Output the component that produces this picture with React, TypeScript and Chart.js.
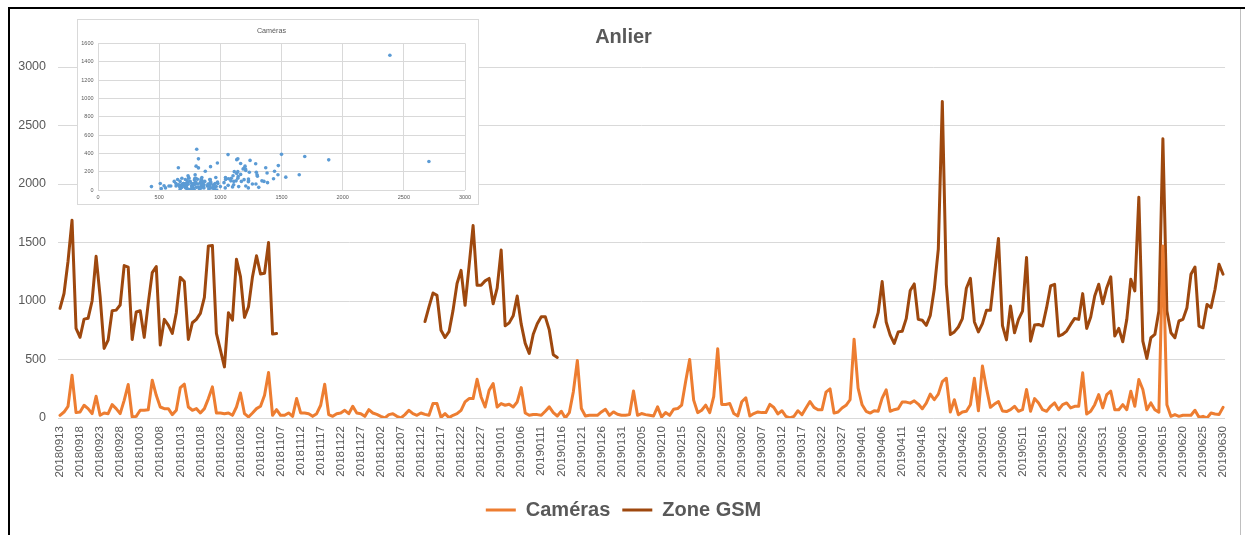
import React, { useEffect, useRef } from 'react';
import { Chart, registerables } from 'chart.js';

Chart.register(...registerables);

// ---------- DATA ----------
const START_YEAR = 2018;
const START_MONTH = 9; // September
const START_DAY = 13;
const DAY_COUNT = 291; // 20180913 .. 20190630
const TICK_EVERY = 5;

const cameras: number[] = [
  23, 51, 100, 366, 46, 51, 109, 80, 37, 186,
  23, 43, 37, 114, 80, 37, 151, 286, 9, 14,
  66, 66, 71, 323, 194, 94, 80, 80, 29, 66,
  260, 289, 94, 66, 80, 43, 80, 166, 266, 43,
  43, 37, 43, 23, 94, 214, 37, 9, 43, 80,
  100, 194, 389, 23, 71, 23, 23, 43, 14, 166,
  43, 43, 37, 14, 37, 109, 289, 29, 14, 37,
  43, 66, 37, 100, 43, 37, 14, 71, 43, 31,
  14, 0, 29, 37, 14, 0, 29, 66, 37, 23,
  43, 31, 23, 123, 123, 5, 37, 3, 23, 37,
  66, 137, 166, 166, 331, 180, 94, 237, 294, 94,
  123, 109, 117, 94, 137, 260, 43, 23, 30, 29,
  23, 58, 95, 46, 17, 58, 0, 46, 225, 491,
  81, 17, 23, 23, 23, 52, 75, 23, 52, 32,
  23, 23, 29, 231, 23, 38, 29, 23, 17, 95,
  9, 46, 23, 75, 81, 110, 312, 500, 153, 46,
  66, 110, 46, 182, 592, 116, 116, 124, 38, 17,
  139, 173, 17, 38, 52, 46, 46, 116, 90, 35,
  62, 14, 0, 14, 62, 28, 85, 141, 91, 71,
  71, 221, 249, 42, 51, 85, 108, 156, 674, 255,
  113, 57, 42, 62, 57, 170, 241, 57, 71, 79,
  136, 136, 127, 147, 119, 79, 127, 204, 156, 204,
  311, 340, 51, 156, 28, 51, 57, 113, 340, 62,
  444, 255, 91, 119, 140, 60, 55, 71, 100, 57,
  71, 243, 57, 166, 129, 71, 57, 100, 129, 71,
  114, 129, 86, 100, 100, 386, 34, 57, 114, 200,
  86, 200, 229, 71, 71, 114, 71, 229, 100, 329,
  243, 71, 129, 71, 49, 1470, 114, 14, 29, 14,
  23, 23, 23, 66, 6, 14, 0, 43, 34, 29,
  91,
];

// Zone GSM exists in three separate runs of days (gaps in between)
const gsmRun1Start = 0; // 20180913
const gsmRun1: number[] = [
  937, 1064, 1340, 1690, 766, 690, 845, 852, 1000, 1382,
  1040, 595, 666, 917, 922, 966, 1303, 1289, 671, 906,
  917, 689, 980, 1243, 1294, 623, 843, 794, 723, 900,
  1202, 1166, 671, 814, 843, 894, 1030, 1471, 1474, 723,
  580, 437, 900, 837, 1357, 1208, 860, 951, 1208, 1386,
  1231, 1237, 1500, 717, 723,
];
const gsmRun2Start = 91; // 20181213
const gsmRun2: number[] = [
  824, 950, 1068, 1048, 750, 688, 738, 920, 1150, 1262,
  963, 1300, 1645, 1134, 1134, 1172, 1193, 976, 1110, 1435,
  788, 813, 873, 1042, 802, 638, 552, 716, 805, 866,
  866, 753, 540, 517,
];
const gsmRun3Start = 203; // 20190404
const gsmRun3: number[] = [
  778, 900, 1166, 821, 708, 637, 736,
  741, 849, 1090, 1146, 843, 835, 792, 877, 1104, 1443,
  2705, 1143, 713, 736, 778, 849, 1109, 1194, 821, 736,
  807, 920, 920, 1230, 1535, 790, 668, 957, 729, 843,
  914, 1371, 657, 794, 800, 786, 943, 1129, 1143, 700,
  714, 743, 800, 851, 843, 1063, 766, 863, 1043, 1143,
  977, 1114, 1206, 700, 766, 651, 843, 1186, 1086, 1886,
  657, 509, 686, 714, 914, 2386, 914, 729, 686, 829,
  843, 943, 1229, 1291, 786, 771, 971, 943, 1100, 1314,
  1229,
];

const yTicksMain = { min: 0, max: 3000, step: 500 };
const insetX = { min: 0, max: 3000, step: 500 };
const insetY = { min: 0, max: 1600, step: 200 };

// ---------- derived tables ----------
const pad2 = (n: number) => (n < 10 ? '0' + n : '' + n);
const categories: string[] = [];
for (let i = 0; i < DAY_COUNT; i++) {
  const d = new Date(Date.UTC(START_YEAR, START_MONTH - 1, START_DAY + i));
  categories.push(`${d.getUTCFullYear()}${pad2(d.getUTCMonth() + 1)}${pad2(d.getUTCDate())}`);
}

const zoneGsm: (number | null)[] = new Array(DAY_COUNT).fill(null);
[[gsmRun1Start, gsmRun1], [gsmRun2Start, gsmRun2], [gsmRun3Start, gsmRun3]].forEach(
  ([start, run]: any) => {
    (run as number[]).forEach((v, k) => {
      zoneGsm[(start as number) + k] = v;
    });
  }
);

const scatterPoints = zoneGsm
  .map((g, i) => (g == null ? null : { x: g, y: cameras[i] }))
  .filter((p) => p != null) as { x: number; y: number }[];

const FONT = "'Liberation Sans', Arial, sans-serif";
const TEXT = '#595959';
const GRID = '#D9D9D9';
const ORANGE = '#ED7D31';
const BROWN = '#9E480E';
const BLUE = '#5B9BD5';
const plainNumber = (v: any) => String(v);

export default function App() {
  const mainRef = useRef<HTMLCanvasElement>(null);
  const insetRef = useRef<HTMLCanvasElement>(null);

  useEffect(() => {
    Chart.defaults.font.family = FONT;
    const main = new Chart(mainRef.current as HTMLCanvasElement, {
      type: 'line',
      data: {
        labels: categories,
        datasets: [
          {
            label: 'Caméras',
            data: cameras,
            borderColor: ORANGE,
            backgroundColor: ORANGE,
            borderWidth: 3,
            pointRadius: 0,
            tension: 0,
            borderJoinStyle: 'round',
            borderCapStyle: 'round',
          },
          {
            label: 'Zone GSM',
            data: zoneGsm,
            borderColor: BROWN,
            backgroundColor: BROWN,
            borderWidth: 3,
            pointRadius: 0,
            tension: 0,
            spanGaps: false,
            borderJoinStyle: 'round',
            borderCapStyle: 'round',
          },
        ],
      },
      options: {
        responsive: false,
        animation: false,
        devicePixelRatio: 1,
        layout: { padding: { left: 18, right: 16, top: 0, bottom: 5 } },
        plugins: {
          title: {
            display: true,
            text: 'Anlier',
            color: TEXT,
            font: { family: FONT, size: 20, weight: 'bold' },
            padding: { top: 25, bottom: 18 },
          },
          legend: {
            display: true,
            position: 'bottom',
            labels: {
              usePointStyle: true,
              pointStyle: 'line',
              pointStyleWidth: 30,
              boxHeight: 20,
              color: TEXT,
              padding: 12,
              font: { family: FONT, size: 20, weight: 'bold' },
            },
          },
          tooltip: { enabled: false },
        },
        scales: {
          x: {
            offset: true,
            grid: { display: false, drawTicks: false },
            border: { display: false },
            ticks: {
              autoSkip: false,
              minRotation: 90,
              maxRotation: 90,
              padding: 8,
              color: TEXT,
              font: { family: FONT, size: 11.6 },
              callback: (_v: any, idx: number) => (idx % TICK_EVERY === 0 ? categories[idx] : null),
            },
            afterFit: (s: any) => {
              s.height = 70;
            },
          },
          y: {
            min: yTicksMain.min,
            max: yTicksMain.max,
            ticks: {
              stepSize: yTicksMain.step,
              padding: 12,
              color: TEXT,
              font: { family: FONT, size: 12.5 },
              callback: plainNumber,
            },
            grid: { color: GRID, drawTicks: false, lineWidth: 1 },
            border: { display: false },
            afterFit: (s: any) => {
              s.width = 40;
            },
          },
        },
      },
    } as any);

    const inset = new Chart(insetRef.current as HTMLCanvasElement, {
      type: 'scatter',
      data: {
        datasets: [
          {
            label: 'Caméras',
            data: scatterPoints,
            backgroundColor: BLUE,
            borderColor: BLUE,
            borderWidth: 0,
            pointRadius: 1.8,
          },
        ],
      },
      options: {
        responsive: false,
        animation: false,
        devicePixelRatio: 1,
        layout: { padding: { left: 0, right: 13, top: 0, bottom: 0 } },
        plugins: {
          legend: { display: false },
          tooltip: { enabled: false },
          title: {
            display: true,
            text: 'Caméras',
            color: TEXT,
            font: { family: FONT, size: 7.2, weight: 'normal' },
            padding: { top: 6.7, bottom: 8 },
          },
        },
        scales: {
          x: {
            type: 'linear',
            min: insetX.min,
            max: insetX.max,
            ticks: {
              stepSize: insetX.step,
              color: TEXT,
              font: { family: FONT, size: 5.5 },
              padding: 4,
              callback: plainNumber,
            },
            grid: { color: GRID, drawTicks: false },
            border: { display: false },
            afterFit: (s: any) => {
              s.height = 14;
            },
          },
          y: {
            min: insetY.min,
            max: insetY.max,
            ticks: {
              stepSize: insetY.step,
              color: TEXT,
              font: { family: FONT, size: 5.5 },
              padding: 4.5,
              callback: plainNumber,
            },
            grid: { color: GRID, drawTicks: false },
            border: { display: false },
            afterFit: (s: any) => {
              s.width = 20;
            },
          },
        },
      },
    } as any);

    return () => {
      main.destroy();
      inset.destroy();
    };
  }, []);

  return (
    <div
      style={{
        position: 'fixed',
        left: 0,
        top: 0,
        width: 1245,
        height: 535,
        background: '#ffffff',
        overflow: 'hidden',
      }}
    >
      <canvas ref={mainRef} width={1245} height={535} style={{ position: 'absolute', left: 0, top: 0 }} />
      <div
        style={{
          position: 'absolute',
          left: 77,
          top: 19,
          width: 400,
          height: 184,
          border: '1px solid #D9D9D9',
          background: '#ffffff',
        }}
      >
        <canvas ref={insetRef} width={400} height={184} style={{ display: 'block' }} />
      </div>
      <div style={{ position: 'absolute', left: 8, top: 7, width: 1237, height: 2, background: '#000' }} />
      <div style={{ position: 'absolute', left: 8, top: 7, width: 2, height: 528, background: '#000' }} />
      <div style={{ position: 'absolute', left: 1240, top: 9, width: 1, height: 526, background: '#BFBFBF' }} />
    </div>
  );
}
